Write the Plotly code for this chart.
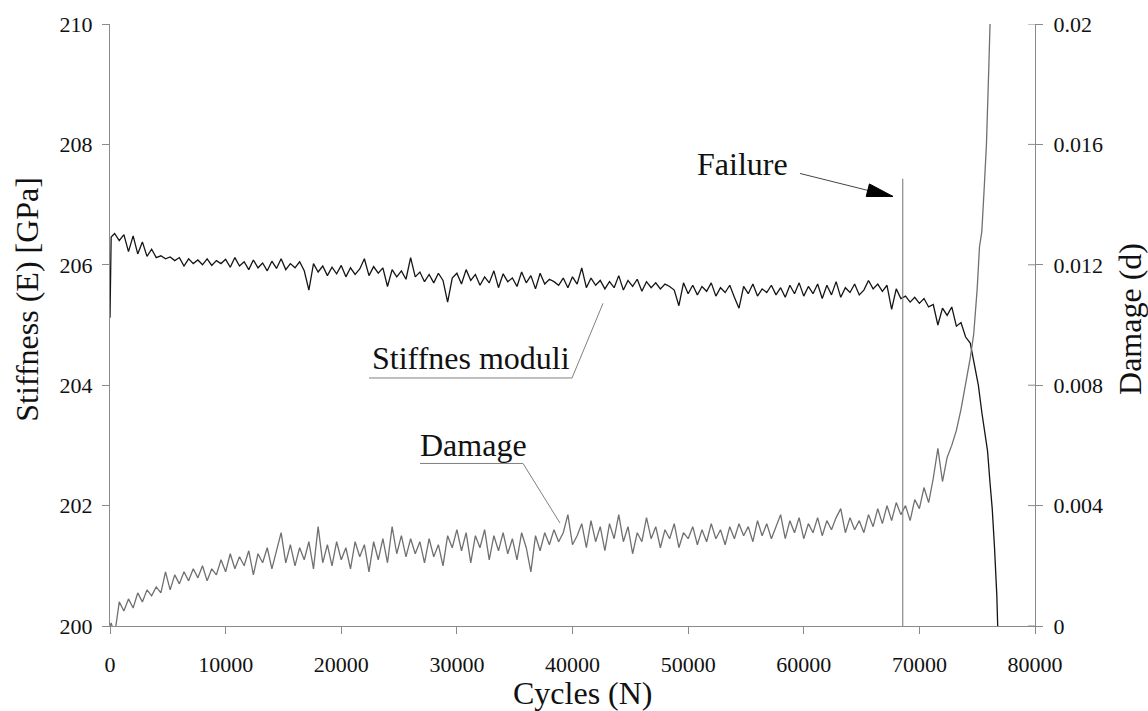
import plotly.graph_objects as go

# ---------------- data ----------------
cycles = [
    0, 100, 400, 800, 1200, 1600, 2000, 2400, 2800, 3200,
    3600, 4000, 4400, 4800, 5200, 5600, 6000, 6400, 6800, 7200,
    7600, 8000, 8400, 8800, 9200, 9600, 10000, 10400, 10800, 11200,
    11600, 12000, 12400, 12800, 13200, 13600, 14000, 14400, 14800, 15200,
    15600, 16000, 16400, 16800, 17200, 17600, 18000, 18400, 18800, 19200,
    19600, 20000, 20400, 20800, 21200, 21600, 22000, 22400, 22800, 23200,
    23600, 24000, 24400, 24800, 25200, 25600, 26000, 26400, 26800, 27200,
    27600, 28000, 28400, 28800, 29200, 29600, 30000, 30400, 30800, 31200,
    31600, 32000, 32400, 32800, 33200, 33600, 34000, 34400, 34800, 35200,
    35600, 36000, 36400, 36800, 37200, 37600, 38000, 38400, 38800, 39200,
    39600, 40000, 40400, 40800, 41200, 41600, 42000, 42400, 42800, 43200,
    43600, 44000, 44400, 44800, 45200, 45600, 46000, 46400, 46800, 47200,
    47600, 48000, 48400, 48800, 49200, 49600, 50000, 50400, 50800, 51200,
    51600, 52000, 52400, 52800, 53200, 53600, 54000, 54400, 54800, 55200,
    55600, 56000, 56400, 56800, 57200, 57600, 58000, 58400, 58800, 59200,
    59600, 60000, 60400, 60800, 61200, 61600, 62000, 62400, 62800, 63200,
    63600, 64000, 64400, 64800, 65200, 65600, 66000, 66400, 66800, 67200,
    67600, 68000, 68400, 68800, 69200, 69600, 70000, 70400, 70800, 71200,
    71600, 72000, 72400, 72800, 73200, 73600, 74000, 74400,
]

stiffness = [
    205.12, 206.46, 206.52, 206.40, 206.50, 206.22, 206.48, 206.18, 206.38, 206.14,
    206.26, 206.12, 206.15, 206.10, 206.13, 206.07, 206.12, 205.98, 206.10, 206.02,
    206.08, 206.00, 206.10, 205.99, 206.07, 206.02, 206.09, 205.96, 206.12, 205.98,
    206.05, 205.92, 206.08, 205.95, 206.03, 205.90, 206.06, 205.94, 206.10, 205.92,
    206.02, 205.95, 206.05, 205.90, 205.58, 206.02, 205.88, 205.98, 205.82, 205.96,
    205.85, 205.99, 205.80, 205.95, 205.84, 205.93, 206.10, 205.82, 205.97, 205.86,
    205.95, 205.64, 205.92, 205.80, 205.90, 205.76, 206.12, 205.80, 205.88, 205.72,
    205.84, 205.70, 205.86, 205.74, 205.38, 205.78, 205.86, 205.68, 205.92, 205.74,
    205.84, 205.66, 205.80, 205.70, 205.90, 205.62, 205.85, 205.72, 205.78, 205.64,
    205.88, 205.70, 205.82, 205.60, 205.86, 205.68, 205.76, 205.72, 205.66, 205.78,
    205.62, 205.80, 205.68, 205.95, 205.62, 205.78, 205.66, 205.74, 205.60, 205.72,
    205.62, 205.82, 205.58, 205.74, 205.64, 205.76, 205.56, 205.72, 205.62, 205.70,
    205.60, 205.68, 205.64, 205.58, 205.32, 205.70, 205.52, 205.66, 205.50, 205.64,
    205.56, 205.70, 205.48, 205.62, 205.54, 205.66, 205.46, 205.28, 205.64, 205.52,
    205.68, 205.48, 205.60, 205.54, 205.66, 205.50, 205.62, 205.46, 205.66, 205.52,
    205.70, 205.48, 205.64, 205.52, 205.68, 205.44, 205.66, 205.50, 205.72, 205.46,
    205.62, 205.54, 205.68, 205.50, 205.58, 205.74, 205.60, 205.68, 205.56, 205.66,
    205.26, 205.60, 205.44, 205.48, 205.38, 205.46, 205.36, 205.44, 205.30, 205.34,
    205.00, 205.28, 205.16, 205.30, 204.98, 205.04, 204.80, 204.70,
]

damage = [
    0.0000, 0.0001, -0.0003, 0.0008, 0.0005, 0.0009, 0.0006, 0.0011, 0.0008, 0.0012,
    0.0010, 0.0013, 0.0011, 0.0018, 0.0012, 0.0017, 0.0014, 0.0018, 0.0015, 0.0019,
    0.0016, 0.0020, 0.0015, 0.0019, 0.0017, 0.0022, 0.0018, 0.0024, 0.0019, 0.0023,
    0.0020, 0.0025, 0.0017, 0.0024, 0.0021, 0.0026, 0.0019, 0.0025, 0.0031, 0.0021,
    0.0027, 0.0020, 0.0026, 0.0022, 0.0028, 0.0019, 0.0033, 0.0021, 0.0027, 0.0020,
    0.0028, 0.0022, 0.0026, 0.0019, 0.0028, 0.0023, 0.0027, 0.0018, 0.0028, 0.0022,
    0.0029, 0.0021, 0.0033, 0.0024, 0.0030, 0.0023, 0.0029, 0.0024, 0.0028, 0.0021,
    0.0029, 0.0023, 0.0027, 0.0020, 0.0030, 0.0026, 0.0032, 0.0025, 0.0031, 0.0021,
    0.0030, 0.0026, 0.0032, 0.0022, 0.0030, 0.0025, 0.0031, 0.0024, 0.0029, 0.0022,
    0.0031, 0.0026, 0.0018, 0.0030, 0.0025, 0.0031, 0.0027, 0.0032, 0.0028, 0.0031,
    0.0037, 0.0027, 0.0030, 0.0034, 0.0026, 0.0035, 0.0028, 0.0033, 0.0025, 0.0034,
    0.0029, 0.0037, 0.0028, 0.0033, 0.0024, 0.0031, 0.0028, 0.0036, 0.0029, 0.0033,
    0.0026, 0.0032, 0.0029, 0.0034, 0.0026, 0.0031, 0.0029, 0.0033, 0.0027, 0.0032,
    0.0028, 0.0034, 0.0029, 0.0032, 0.0027, 0.0033, 0.0029, 0.0034, 0.0030, 0.0033,
    0.0028, 0.0035, 0.0030, 0.0034, 0.0029, 0.0033, 0.0037, 0.0029, 0.0035, 0.0031,
    0.0036, 0.0029, 0.0034, 0.0031, 0.0036, 0.0030, 0.0035, 0.0032, 0.0036, 0.0039,
    0.0031, 0.0036, 0.0032, 0.0035, 0.0031, 0.0037, 0.0033, 0.0039, 0.0034, 0.0040,
    0.0035, 0.0041, 0.0037, 0.0040, 0.0035, 0.0042, 0.0039, 0.0046, 0.0041, 0.0049,
    0.0059, 0.0048, 0.0056, 0.0060, 0.0065, 0.0072, 0.0080, 0.0089,
]

# final collapse after the main sampling grid
stiff_tail_cycles = [74800, 75100, 75400, 75700, 75900, 76100, 76300, 76500, 76700, 76850]
stiff_tail = [204.30, 204.00, 203.55, 203.20, 202.90, 202.40, 201.95, 201.30, 200.50, 199.50]

damage_tail_cycles = [74700, 75000, 75200, 75400, 75600, 75800, 76000, 76150]
damage_tail = [0.0097, 0.0112, 0.0126, 0.0131, 0.0145, 0.0160, 0.0185, 0.0205]

failure_cycles = 68560
x_ticks = [0, 10000, 20000, 30000, 40000, 50000, 60000, 70000, 80000]
stiff_ticks = [200, 202, 204, 206, 208, 210]
damage_ticks = [0, 0.004, 0.008, 0.012, 0.016, 0.02]

assert len(cycles) == len(stiffness) == len(damage)

# ---------------- figure ----------------
FONT = "Liberation Serif"
AXIS_GREY = "#8a8a8a"

fig = go.Figure()
fig.add_trace(go.Scatter(
    x=cycles + stiff_tail_cycles, y=stiffness + stiff_tail,
    mode="lines", line=dict(color="#151515", width=1.3),
    name="Stiffnes moduli", yaxis="y", showlegend=False,
))
fig.add_trace(go.Scatter(
    x=cycles + damage_tail_cycles, y=damage + damage_tail,
    mode="lines", line=dict(color="#707070", width=1.3),
    name="Damage", yaxis="y2", showlegend=False,
))

tickfont = dict(family=FONT, size=22, color="#111111")
fig.update_layout(
    width=1148, height=711,
    margin=dict(l=110, r=113, t=22, b=85),
    paper_bgcolor="white", plot_bgcolor="white",
    font=dict(family=FONT, color="#111111"),
    xaxis=dict(
        range=[0, 80000], tickvals=x_ticks, tickformat="d",
        showgrid=False, zeroline=False, showline=True, linecolor=AXIS_GREY, linewidth=1,
        ticks="outside", ticklen=7, tickcolor=AXIS_GREY, tickfont=tickfont,
        ticklabelstandoff=12,
    ),
    yaxis=dict(
        range=[200, 210], tickvals=stiff_ticks,
        showgrid=False, zeroline=False, showline=True, linecolor=AXIS_GREY, linewidth=1,
        ticks="outside", ticklen=7, tickcolor=AXIS_GREY, tickfont=tickfont,
        ticklabelstandoff=5,
    ),
    yaxis2=dict(
        range=[0, 0.02], tickvals=damage_ticks, overlaying="y", side="right",
        showgrid=False, zeroline=False, showline=True, linecolor=AXIS_GREY, linewidth=1,
        ticks="outside", ticklen=7, tickcolor=AXIS_GREY, tickfont=tickfont,
        ticklabelstandoff=6,
    ),
)

# inner half of the crossing ticks on the right axis
for t in damage_ticks:
    fig.add_shape(type="line", xref="paper", yref="y2", x0=1, x1=1 - 7 / 925, y0=t, y1=t,
                  line=dict(color=AXIS_GREY, width=1))

# failure marker line
fig.add_shape(type="line", xref="x", yref="y", x0=failure_cycles, x1=failure_cycles,
              y0=200, y1=207.43, line=dict(color=AXIS_GREY, width=1.2))

# arrow (line + filled head)
fig.add_shape(type="line", xref="x", yref="y", x0=59680, y0=207.517, x1=65560, y1=207.235,
              line=dict(color="#444444", width=1))
fig.add_shape(type="path", xref="x", yref="y",
              path="M 67720 207.136 L 65400 207.134 L 65680 207.343 Z",
              fillcolor="black", line=dict(color="black", width=1))

# label leaders
fig.add_shape(type="path", xref="x", yref="y",
              path="M 22400 204.12 L 39960 204.12 L 42640 205.36",
              line=dict(color="#808080", width=1))
fig.add_shape(type="path", xref="x", yref="y",
              path="M 26810 202.70 L 35720 202.70 L 38920 201.71",
              line=dict(color="#808080", width=1))

big = dict(family=FONT, size=32, color="#111111")
ctr = dict(showarrow=False, font=big, xanchor="center", yanchor="middle")
fig.add_annotation(x=54660, y=207.68, xref="x", yref="y", text="Failure", **ctr)
fig.add_annotation(x=31220, y=204.45, xref="x", yref="y", text="Stiffnes moduli", **ctr)
fig.add_annotation(x=31480, y=203.0, xref="x", yref="y", text="Damage", **ctr)

# axis titles
fig.add_annotation(x=0.511, y=-0.111, xref="paper", yref="paper", text="Cycles (N)", **ctr)
fig.add_annotation(x=-0.0897, y=0.542, xref="paper", yref="paper", text="Stiffness (E) [GPa]",
                   textangle=-90, **ctr)
fig.add_annotation(x=1.1027, y=0.51, xref="paper", yref="paper", text="Damage (d)",
                   textangle=-90, **ctr)

fig.write_html("out.html")
